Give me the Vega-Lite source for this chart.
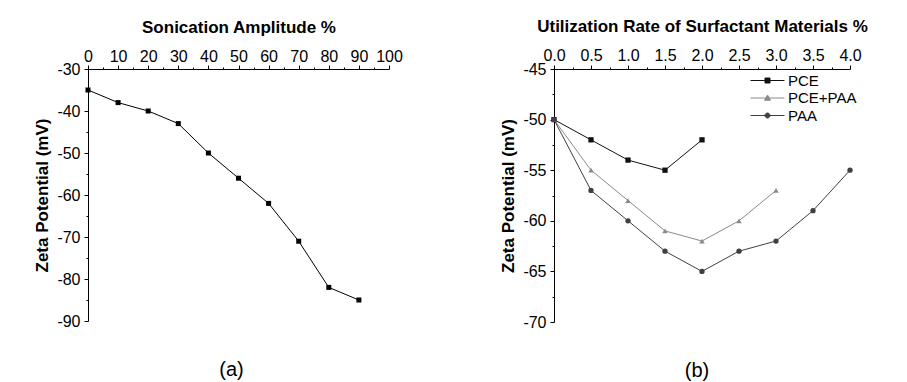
{
  "$schema": "https://vega.github.io/schema/vega-lite/v6.json",
  "background": "white",
  "padding": {"left": 33, "top": 17, "right": 0, "bottom": 0},
  "spacing": 165,
  "bounds": "flush",
  "resolve": {"scale": {"color": "independent"}, "legend": {"color": "independent"}},
  "config": {
    "font": "Liberation Sans",
    "view": {"stroke": null},
    "axis": {
      "grid": false,
      "domainColor": "#000000",
      "tickColor": "#000000",
      "labelColor": "#000000",
      "titleColor": "#000000",
      "labelFont": "Liberation Sans",
      "titleFont": "Liberation Sans",
      "labelFontSize": 16,
      "titleFontSize": 17,
      "titleFontWeight": "bold",
      "tickSize": 4,
      "tickWidth": 1,
      "domainWidth": 1,
      "labelFlush": false,
      "labelOverlap": false
    },
    "title": {"font": "Liberation Sans", "fontSize": 20, "fontWeight": "normal", "color": "#000000"}
  },
  "hconcat": [
    {
      "width": 301,
      "height": 252,
      "title": {"text": "(a)", "orient": "bottom", "anchor": "middle", "frame": "group", "offset": 31, "dx": -7},
      "data": {"values": [
        {"amp": 0, "zeta": -35},
        {"amp": 10, "zeta": -38},
        {"amp": 20, "zeta": -40},
        {"amp": 30, "zeta": -43},
        {"amp": 40, "zeta": -50},
        {"amp": 50, "zeta": -56},
        {"amp": 60, "zeta": -62},
        {"amp": 70, "zeta": -71},
        {"amp": 80, "zeta": -82},
        {"amp": 90, "zeta": -85}
      ]},
      "resolve": {"axis": {"x": "independent", "y": "independent"}},
      "layer": [
        {
          "mark": {"type": "line", "color": "#000000", "strokeWidth": 1},
          "encoding": {
            "x": {"field": "amp", "type": "quantitative", "scale": {"domain": [0, 100], "nice": false},
              "axis": {"orient": "top", "title": "Sonication Amplitude %", "values": [0, 10, 20, 30, 40, 50, 60, 70, 80, 90, 100], "labelPadding": 1, "titlePadding": 12}},
            "y": {"field": "zeta", "type": "quantitative", "scale": {"domain": [-90, -30], "nice": false, "zero": false},
              "axis": {"orient": "left", "title": "Zeta Potential (mV)", "values": [-90, -80, -70, -60, -50, -40, -30], "labelExpr": "'' + datum.value", "labelPadding": 4, "titlePadding": 5}}
          }
        },
        {
          "mark": {"type": "point", "shape": "square", "filled": true, "color": "#000000", "size": 25, "opacity": 1},
          "encoding": {
            "x": {"field": "amp", "type": "quantitative", "scale": {"domain": [0, 100], "nice": false},
              "axis": {"orient": "top", "title": null, "values": [5, 15, 25, 35, 45, 55, 65, 75, 85, 95], "labels": false, "domain": false, "tickSize": 2}},
            "y": {"field": "zeta", "type": "quantitative", "scale": {"domain": [-90, -30], "nice": false, "zero": false},
              "axis": {"orient": "left", "title": null, "values": [-85, -75, -65, -55, -45, -35], "labels": false, "domain": false, "tickSize": 2}}
          }
        }
      ]
    },
    {
      "width": 296,
      "height": 253,
      "title": {"text": "(b)", "orient": "bottom", "anchor": "middle", "frame": "group", "offset": 31, "dx": -5},
      "data": {"values": [
        {"rate": 0.0, "zeta": -50, "series": "PCE"},
        {"rate": 0.5, "zeta": -52, "series": "PCE"},
        {"rate": 1.0, "zeta": -54, "series": "PCE"},
        {"rate": 1.5, "zeta": -55, "series": "PCE"},
        {"rate": 2.0, "zeta": -52, "series": "PCE"},
        {"rate": 0.0, "zeta": -50, "series": "PCE+PAA"},
        {"rate": 0.5, "zeta": -55, "series": "PCE+PAA"},
        {"rate": 1.0, "zeta": -58, "series": "PCE+PAA"},
        {"rate": 1.5, "zeta": -61, "series": "PCE+PAA"},
        {"rate": 2.0, "zeta": -62, "series": "PCE+PAA"},
        {"rate": 2.5, "zeta": -60, "series": "PCE+PAA"},
        {"rate": 3.0, "zeta": -57, "series": "PCE+PAA"},
        {"rate": 0.0, "zeta": -50, "series": "PAA"},
        {"rate": 0.5, "zeta": -57, "series": "PAA"},
        {"rate": 1.0, "zeta": -60, "series": "PAA"},
        {"rate": 1.5, "zeta": -63, "series": "PAA"},
        {"rate": 2.0, "zeta": -65, "series": "PAA"},
        {"rate": 2.5, "zeta": -63, "series": "PAA"},
        {"rate": 3.0, "zeta": -62, "series": "PAA"},
        {"rate": 3.5, "zeta": -59, "series": "PAA"},
        {"rate": 4.0, "zeta": -55, "series": "PAA"}
      ]},
      "resolve": {"axis": {"x": "independent", "y": "independent"}},
      "layer": [
        {
          "mark": {"type": "line", "strokeWidth": 1},
          "encoding": {
            "x": {"field": "rate", "type": "quantitative", "scale": {"domain": [0, 4], "nice": false},
              "axis": {"orient": "top", "title": "Utilization Rate of Surfactant Materials %", "values": [0, 0.5, 1, 1.5, 2, 2.5, 3, 3.5, 4], "labelExpr": "format(datum.value, '.1f')", "labelPadding": 2, "titlePadding": 12}},
            "y": {"field": "zeta", "type": "quantitative", "scale": {"domain": [-70, -45], "nice": false, "zero": false},
              "axis": {"orient": "left", "title": "Zeta Potential (mV)", "values": [-70, -65, -60, -55, -50, -45], "labelExpr": "'' + datum.value", "labelPadding": 4, "titlePadding": 5}},
            "color": {"field": "series", "type": "nominal",
              "scale": {"domain": ["PCE", "PCE+PAA", "PAA"], "range": ["#111111", "#8a8a8a", "#404040"]},
              "legend": {
                "title": null,
                "orient": "none",
                "legendX": 206,
                "legendY": 4,
                "padding": 0,
                "symbolSize": 100,
                "labelOffset": 13,
                "labelFont": "Liberation Sans",
                "labelFontSize": 15,
                "labelColor": "#000000",
                "rowPadding": 1.5,
                "encode": {
                  "symbols": {
                    "update": {
                      "shape": {"signal": "datum.value === 'PCE' ? 'M-3.4,0H3.4M-0.5,-0.5H0.5V0.5H-0.5Z' : datum.value === 'PAA' ? 'M-3.4,0H3.4M0.5,0A0.5,0.5 0 1,1 -0.5,0A0.5,0.5 0 1,1 0.5,0Z' : 'M-3.4,0H3.4M0,-0.6L0.6,0.45H-0.6Z'"},
                      "fill": {"signal": "datum.value === 'PCE' ? '#111111' : datum.value === 'PAA' ? '#404040' : '#8a8a8a'"},
                      "stroke": {"signal": "datum.value === 'PCE' ? '#111111' : datum.value === 'PAA' ? '#404040' : '#8a8a8a'"},
                      "strokeWidth": {"value": 1},
                      "opacity": {"value": 1}
                    }
                  }
                }
              }}
          }
        },
        {
          "transform": [{"filter": "datum.series === 'PCE'"}],
          "mark": {"type": "point", "shape": "square", "filled": true, "size": 28, "opacity": 1},
          "encoding": {
            "x": {"field": "rate", "type": "quantitative", "scale": {"domain": [0, 4], "nice": false},
              "axis": {"orient": "top", "title": null, "values": [0.25, 0.75, 1.25, 1.75, 2.25, 2.75, 3.25, 3.75], "labels": false, "domain": false, "tickSize": 2}},
            "y": {"field": "zeta", "type": "quantitative", "scale": {"domain": [-70, -45], "nice": false, "zero": false},
              "axis": {"orient": "left", "title": null, "values": [-67.5, -62.5, -57.5, -52.5, -47.5], "labels": false, "domain": false, "tickSize": 2}},
            "color": {"field": "series", "type": "nominal", "scale": {"domain": ["PCE", "PCE+PAA", "PAA"], "range": ["#111111", "#8a8a8a", "#404040"]}, "legend": null}
          }
        },
        {
          "transform": [{"filter": "datum.series === 'PCE+PAA'"}],
          "mark": {"type": "point", "shape": "triangle-up", "filled": true, "size": 30, "opacity": 1},
          "encoding": {
            "x": {"field": "rate", "type": "quantitative", "scale": {"domain": [0, 4], "nice": false}, "axis": null},
            "y": {"field": "zeta", "type": "quantitative", "scale": {"domain": [-70, -45], "nice": false, "zero": false}, "axis": null},
            "color": {"field": "series", "type": "nominal", "scale": {"domain": ["PCE", "PCE+PAA", "PAA"], "range": ["#111111", "#8a8a8a", "#404040"]}, "legend": null}
          }
        },
        {
          "transform": [{"filter": "datum.series === 'PAA'"}],
          "mark": {"type": "point", "shape": "circle", "filled": true, "size": 28, "opacity": 1},
          "encoding": {
            "x": {"field": "rate", "type": "quantitative", "scale": {"domain": [0, 4], "nice": false}, "axis": null},
            "y": {"field": "zeta", "type": "quantitative", "scale": {"domain": [-70, -45], "nice": false, "zero": false}, "axis": null},
            "color": {"field": "series", "type": "nominal", "scale": {"domain": ["PCE", "PCE+PAA", "PAA"], "range": ["#111111", "#8a8a8a", "#404040"]}, "legend": null}
          }
        }
      ]
    }
  ]
}
